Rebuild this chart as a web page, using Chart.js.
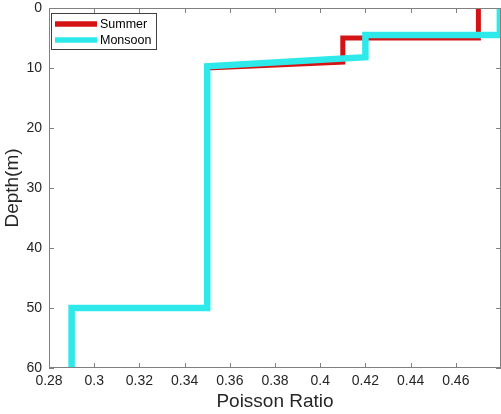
<!DOCTYPE html>
<html lang="en">
<head>
<meta charset="UTF-8">
<title>Poisson Ratio vs Depth</title>
<script src="https://cdn.jsdelivr.net/npm/chart.js@4.4.1/dist/chart.umd.min.js"></script>
<style>
  html, body { margin: 0; padding: 0; background: #fff; }
  #wrap { width: 501px; height: 414px; }
</style>
</head>
<body>
<div id="wrap"><canvas id="depth_chart"></canvas></div>
<script>
// step profiles: poisson ratio against depth (m)
const summerRatio   = [0.47, 0.47, 0.41, 0.41, 0.35, 0.35, 0.29, 0.29];
const summerDepth   = [0, 5, 5, 9, 10, 50, 50, 60];
const monsoonRatio  = [0.4795, 0.4795, 0.42, 0.42, 0.35, 0.35, 0.29, 0.29];
const monsoonDepth  = [0, 4.5, 4.5, 8.2, 9.7, 50, 50, 60];

const xTicks = [0.28, 0.3, 0.32, 0.34, 0.36, 0.38, 0.4, 0.42, 0.44, 0.46];
const yTicks = [0, 10, 20, 30, 40, 50, 60];

const RED = '#d41414';
const CYAN = '#2ee9ea';
const AXIS = '#808080';
const TEXT = '#262626';
const FONT = "'Liberation Sans', Arial, sans-serif";

function pts(xs, ys) {
    return xs.map((x, i) => ({ x: x, y: ys[i] }));
}

// box + inward ticks like a matlab axes
const boxPlugin = {
    id: 'boxTicks',
    afterDraw(chart) {
        const ctx = chart.ctx;
        const a = chart.chartArea;
        const xs = chart.scales.x, ys = chart.scales.y;
        ctx.save();
        ctx.strokeStyle = AXIS;
        ctx.lineWidth = 1;
        ctx.strokeRect(a.left + 0.5, a.top + 0.5, a.right - a.left - 1, a.bottom - a.top - 1);
        ctx.beginPath();
        xTicks.forEach(v => {
            const px = Math.round(xs.getPixelForValue(v)) + 0.5;
            ctx.moveTo(px, a.bottom); ctx.lineTo(px, a.bottom - 5);
            ctx.moveTo(px, a.top); ctx.lineTo(px, a.top + 5);
        });
        yTicks.forEach(v => {
            const py = Math.round(ys.getPixelForValue(v)) + 0.5;
            ctx.moveTo(a.left, py); ctx.lineTo(a.left + 5, py);
            ctx.moveTo(a.right, py); ctx.lineTo(a.right - 5, py);
        });
        ctx.stroke();

        // legend inside the top-left corner
        const lx = a.left + 2, ly = a.top + 5, lw = 105, lh = 36;
        ctx.fillStyle = '#fff';
        ctx.fillRect(lx, ly, lw, lh);
        ctx.strokeStyle = '#404040';
        ctx.strokeRect(lx + 0.5, ly + 0.5, lw, lh);
        const items = [chart.data.datasets[1], chart.data.datasets[0]];
        ctx.font = '12.5px ' + FONT;
        ctx.textBaseline = 'middle';
        items.forEach((ds, i) => {
            const yy = ly + 11 + i * 16;
            ctx.strokeStyle = ds.borderColor;
            ctx.lineWidth = 5.5;
            ctx.beginPath();
            ctx.moveTo(lx + 4, yy); ctx.lineTo(lx + 46, yy);
            ctx.stroke();
            ctx.fillStyle = '#000';
            ctx.fillText(ds.label, lx + 49, yy + 1);
        });
        ctx.restore();
    }
};

const chart = new Chart(document.getElementById('depth_chart'), {
    type: 'scatter',
    data: {
        datasets: [{
            label: 'Monsoon',
            data: pts(monsoonRatio, monsoonDepth),
            showLine: true,
            borderColor: CYAN,
            borderWidth: 6.5,
            borderJoinStyle: 'miter',
            pointRadius: 0,
            clip: 0
        }, {
            label: 'Summer',
            data: pts(summerRatio, summerDepth),
            showLine: true,
            borderColor: RED,
            borderWidth: 5,
            borderJoinStyle: 'miter',
            pointRadius: 0,
            clip: 0
        }]
    },
    plugins: [boxPlugin],
    options: {
        responsive: true,
        maintainAspectRatio: false,
        animation: false,
        layout: { padding: { top: 8, right: 0, left: 0, bottom: 0 } },
        plugins: {
            legend: { display: false },
            tooltip: { enabled: false }
        },
        scales: {
            x: {
                type: 'linear',
                min: 0.28,
                max: 0.48,
                afterBuildTicks: s => { s.ticks = xTicks.map(v => ({ value: v })); },
                afterFit: s => { s.height = 46; s.paddingLeft = 0; s.paddingRight = 0; },
                grid: { display: false, drawTicks: false, tickLength: 0 },
                border: { display: false },
                ticks: {
                    color: TEXT,
                    font: { family: FONT, size: 14 },
                    padding: 5,
                    maxRotation: 0,
                    callback: v => String(+v.toFixed(2))
                },
                title: {
                    display: true,
                    text: 'Poisson Ratio',
                    color: TEXT,
                    font: { family: FONT, size: 19 },
                    padding: { top: 0, bottom: 1 }
                }
            },
            y: {
                type: 'linear',
                reverse: true,
                min: 0,
                max: 60,
                afterBuildTicks: s => { s.ticks = yTicks.map(v => ({ value: v })); },
                afterFit: s => { s.width = 49; s.paddingTop = 0; s.paddingBottom = 0; },
                grid: { display: false, drawTicks: false, tickLength: 0 },
                border: { display: false },
                ticks: {
                    color: TEXT,
                    font: { family: FONT, size: 14 },
                    padding: 7
                },
                title: {
                    display: true,
                    text: 'Depth(m)',
                    color: TEXT,
                    font: { family: FONT, size: 19 },
                    padding: { top: 1, bottom: 0 }
                }
            }
        }
    }
});
</script>
</body>
</html>
